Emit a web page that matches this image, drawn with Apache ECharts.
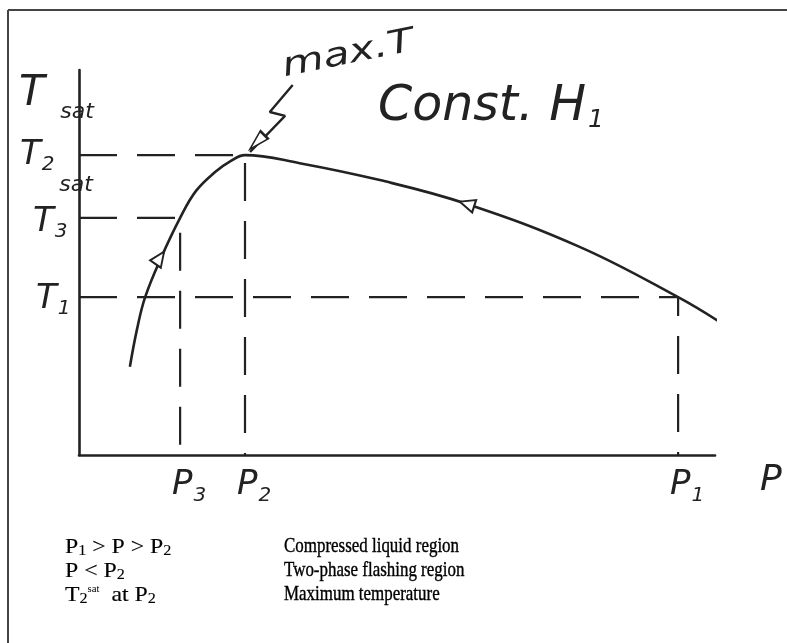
<!DOCTYPE html>
<html>
<head>
<meta charset="utf-8">
<script src="https://cdn.jsdelivr.net/npm/echarts@6/dist/echarts.min.js"></script>
<style>
  html, body { margin: 0; padding: 0; background: #fff; }
  #chart { width: 787px; height: 643px; }
</style>
</head>
<body>
<div id="chart"></div>
<script>
// Constant-enthalpy path in the P–T plane (arbitrary units)
const pathP = [0.80, 0.91, 1.04, 1.29, 1.59, 1.84, 2.14, 2.37, 2.61, 3.47, 4.73, 6.10, 7.88, 9.42, 10.08];
const pathT = [2.29, 3.25, 4.10, 5.12, 6.16, 6.86, 7.35, 7.62, 7.79, 7.58, 7.14, 6.52, 5.40, 4.10, 3.45];

// Marked states: subscript, pressure, temperature, saturation flag
const stateNames = ['1', '2', '3'];
const stateP = [9.42, 2.61, 1.59];
const stateT = [4.10, 7.79, 6.16];
const stateSat = [false, true, true];

// Flow-direction arrows sitting on the path
const arrowP = [1.27, 6.10];
const arrowT = [5.12, 6.52];

// Zigzag pointer toward the temperature maximum
const pointerP = [3.36, 3.00, 3.24, 2.69];
const pointerT = [9.61, 8.91, 8.81, 7.87];
const pointerHeadP = [2.80];
const pointerHeadT = [8.13];

// Notes under the diagram
const noteConditions = [
  '{n|P}{s|1}{n| > P > P}{s|2}',
  '{n|P < P}{s|2}',
  '{n|T}{s|2}{u|sat}{n|  at P}{s|2}'
];
const noteMeanings = [
  'Compressed liquid region',
  'Two-phase flashing region',
  'Maximum temperature'
];

const INK = '#222222';
const HAND = 'DejaVu Sans';
const PRINT = 'Liberation Serif';

const chart = echarts.init(document.getElementById('chart'), null, { renderer: 'canvas' });

const pathData = pathP.map((p, i) => [p, pathT[i]]);

// Dashed guides from each state to both axes
const guideSeries = stateP.map((p, i) => ({
  type: 'line',
  data: [[0, stateT[i]], [p, stateT[i]], [p, 0]],
  symbol: 'none',
  silent: true,
  z: 1,
  lineStyle: { color: INK, width: 2.2, type: [38, 20] }
}));

const handRich = {
  m: { fontFamily: HAND, fontStyle: 'italic', fontSize: 34, color: INK, lineHeight: 40 },
  s: { fontFamily: HAND, fontStyle: 'italic', fontSize: 20, color: INK, padding: [20, 0, 0, 1] }
};

// rich tokens for the printed notes (graphic text, zrender style names)
const noteRich = {
  n: { fontFamily: PRINT, fontSize: 22, fill: '#000', lineHeight: 24, stroke: '#000', lineWidth: 0.15 },
  s: { fontFamily: PRINT, fontSize: 15, fill: '#000', padding: [9, 0, 0, 0], stroke: '#000', lineWidth: 0.1 },
  u: { fontFamily: PRINT, fontSize: 10, fill: '#000', padding: [0, 0, 12, 0] }
};

// per-state nudges of the T labels and their "sat" marks
const tLabelOffset = [[8, 2], [-8, 0], [5, 4]];
const satOffset = [[0, 0], [-2, -43], [-3, -33]];

const option = {
  animation: false,
  backgroundColor: '#fff',
  grid: { left: 79, right: 72, top: 70, bottom: 188 },
  xAxis: {
    type: 'value', min: 0, max: 10,
    name: 'P', nameLocation: 'end', nameGap: 45,
    nameTextStyle: { fontFamily: HAND, fontStyle: 'italic', fontSize: 36, color: INK, verticalAlign: 'top', padding: [8, 0, 0, 0] },
    axisLine: { show: true, lineStyle: { color: INK, width: 2.6 } },
    axisTick: { show: false }, axisLabel: { show: false }, splitLine: { show: false }
  },
  yAxis: {
    type: 'value', min: 0, max: 10,
    axisLine: { show: true, lineStyle: { color: INK, width: 2.6 } },
    axisTick: { show: false }, axisLabel: { show: false }, splitLine: { show: false }
  },
  series: [
    ...guideSeries,
    {
      type: 'line',
      name: 'path',
      data: pathData,
      smooth: 0.4,
      symbol: 'none',
      clip: false,
      z: 3,
      lineStyle: { color: INK, width: 2.6 }
    },
    {
      type: 'scatter',
      data: arrowP.map((p, i) => [p, arrowT[i]]),
      symbol: 'triangle',
      symbolSize: [13, 15],
      symbolRotate: (val, params) => (params.dataIndex === 0 ? -35 : 72),
      z: 4,
      itemStyle: { color: '#fff', borderColor: INK, borderWidth: 2, opacity: 1 }
    },
    {
      type: 'line',
      data: pointerP.map((p, i) => [p, pointerT[i]]),
      symbol: 'none',
      clip: false,
      z: 4,
      lineStyle: { color: INK, width: 2.4 }
    },
    {
      type: 'scatter',
      data: pointerHeadP.map((p, i) => [p, pointerHeadT[i]]),
      symbol: 'triangle',
      symbolSize: [11, 20],
      symbolRotate: 135,
      clip: false,
      z: 4,
      itemStyle: { color: '#fff', borderColor: INK, borderWidth: 2, opacity: 1 }
    },
    {
      // P-axis state labels
      type: 'scatter',
      data: stateP.map((p, i) => ({ value: [p, 0], name: stateNames[i] })),
      symbolSize: 1,
      silent: true,
      itemStyle: { color: 'rgba(0,0,0,0)', opacity: 1 },
      label: {
        show: true, position: 'bottom', distance: 10, offset: [9, 0],
        color: INK, opacity: 1,
        formatter: '{m|P}{s|{b}}', rich: handRich
      }
    },
    {
      // T-axis state labels
      type: 'scatter',
      data: stateT.map((t, i) => ({
        value: [0, t], name: stateNames[i],
        label: { offset: tLabelOffset[i] }
      })),
      symbolSize: 1,
      silent: true,
      itemStyle: { color: 'rgba(0,0,0,0)', opacity: 1 },
      label: {
        show: true, position: 'left', distance: 16,
        color: INK, opacity: 1,
        formatter: '{m|T}{s|{b}}', rich: handRich
      }
    },
    {
      // saturation marks above T2 and T3
      type: 'scatter',
      data: stateT
        .map((t, i) => ({ value: [0, t], label: { offset: satOffset[i] } }))
        .filter((d, i) => stateSat[i]),
      symbolSize: 1,
      silent: true,
      itemStyle: { color: 'rgba(0,0,0,0)', opacity: 1 },
      label: {
        show: true, position: 'inside',
        formatter: 'sat', opacity: 1,
        fontFamily: HAND, fontStyle: 'italic', fontSize: 22, color: INK
      }
    }
  ],
  graphic: [
    // frame along the top and left edges
    { type: 'line', shape: { x1: 8, y1: 10, x2: 787, y2: 10 }, style: { stroke: '#444', lineWidth: 2 } },
    { type: 'line', shape: { x1: 8, y1: 10, x2: 8, y2: 643 }, style: { stroke: '#444', lineWidth: 2 } },
    { type: 'text', x: 19, y: 73, style: { text: 'T', fontFamily: HAND, fontStyle: 'italic', fontSize: 42, fill: INK } },
    { type: 'text', x: 286, y: 84, rotation: 0.2, scaleX: 1.3,
      style: { text: 'max.T', fontFamily: HAND, fontStyle: 'italic', fontSize: 33, fill: INK, textVerticalAlign: 'bottom' } },
    { type: 'text', x: 378, y: 79,
      style: { text: '{a|Const. H}{b|1}', rich: {
        a: { fontFamily: HAND, fontStyle: 'italic', fontSize: 49, fill: INK, lineHeight: 56 },
        b: { fontFamily: HAND, fontStyle: 'italic', fontSize: 25, fill: INK, padding: [27, 0, 0, 2] }
      } } },
    ...noteConditions.map((t, i) => ({
      type: 'text', x: 65, y: 535 + i * 24, scaleX: 1.08,
      style: { text: t, rich: noteRich }
    })),
    ...noteMeanings.map((t, i) => ({
      type: 'text', x: 284, y: 535 + i * 24, scaleX: 0.77,
      style: { text: t, fontFamily: PRINT, fontSize: 22, fill: '#000', stroke: '#000', lineWidth: 0.4 }
    }))
  ]
};

chart.setOption(option);
</script>
</body>
</html>
